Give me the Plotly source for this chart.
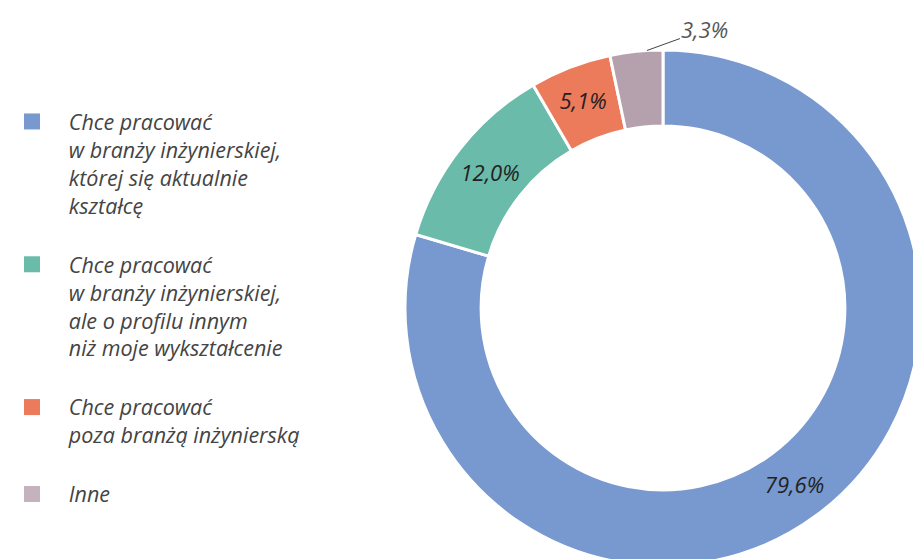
import math
import plotly.graph_objects as go

labels = [
    "Chce pracować<br>w branży inżynierskiej,<br>której się aktualnie<br>kształcę",
    "Chce pracować<br>w branży inżynierskiej,<br>ale o profilu innym<br>niż moje wykształcenie",
    "Chce pracować<br>poza branżą inżynierską",
    "Inne",
]
values = [79.6, 12.0, 5.1, 3.3]
colors = ["#7898D0", "#6BBBAA", "#EC7B5B", "#B5A1AD"]
legend_colors = ["#7898D0", "#6BBBAA", "#EC7B5B", "#C4B3BC"]
text_positions = ["inside", "inside", "inside", "none"]

W, H = 940, 580
FONT = "Open Sans"
# pie box in pixels
PX0, PX1, PY0, PY1 = 405, 921, 50, 566
CX, CY = (PX0 + PX1) / 2, (PY0 + PY1) / 2
R = (PX1 - PX0) / 2

fig = go.Figure()
fig.add_trace(go.Pie(
    labels=labels,
    values=values,
    sort=False,
    direction="clockwise",
    rotation=0,
    hole=0.705,
    marker=dict(colors=colors, line=dict(color="white", width=3)),
    texttemplate="%{value:.1f}%",
    textposition=text_positions,
    insidetextorientation="horizontal",
    insidetextfont=dict(family=FONT, size=22, color="#222222", style="italic"),
    showlegend=False,
    domain=dict(x=[PX0 / W, PX1 / W], y=[1 - PY1 / H, 1 - PY0 / H]),
))

# outside label for the last (small) slice, with a leader line
total = sum(values)
start = sum(values[:-1]) / total
frac = start + 0.7 * (values[-1] / total)
ang = 2 * math.pi * frac
px = CX + R * math.sin(ang)
py = CY - R * math.cos(ang)
fig.add_annotation(
    x=px / W, y=1 - py / H, xref="paper", yref="paper",
    text=f"{values[-1]:.1f}%".replace(".", ","),
    showarrow=True, arrowhead=0, arrowwidth=1, arrowcolor="#444444",
    ax=58, ay=-21, standoff=0,
    font=dict(family=FONT, size=22, color="#555555", style="italic"),
)

for lab, col in zip(labels, legend_colors):
    lines = lab.split("<br>")
    pad = "\u00a0\u00a0\u00a0"
    txt = "<br>".join(pad + ln for ln in lines)
    fig.add_trace(go.Scatter(
        x=[None], y=[None], mode="markers", name=txt, legendgroup=lab,
        marker=dict(symbol="square", size=16, color=col),
        showlegend=True,
    ))

fig.update_layout(
    width=W, height=H,
    margin=dict(l=0, r=0, t=0, b=0),
    paper_bgcolor="white", plot_bgcolor="white",
    separators=", ",
    xaxis=dict(visible=False), yaxis=dict(visible=False),
    legend=dict(
        x=12 / W, xanchor="left", y=1 - 101 / H, yanchor="top",
        valign="top", tracegroupgap=28,
        font=dict(family=FONT, size=21.5, color="#444444", style="italic"),
        bgcolor="rgba(0,0,0,0)",
    ),
)

fig.write_html(
    "out.html",
    config={"displayModeBar": False},
    post_script="document.body.style.margin='0';document.body.style.overflow='hidden';document.documentElement.style.overflow='hidden';",
)
